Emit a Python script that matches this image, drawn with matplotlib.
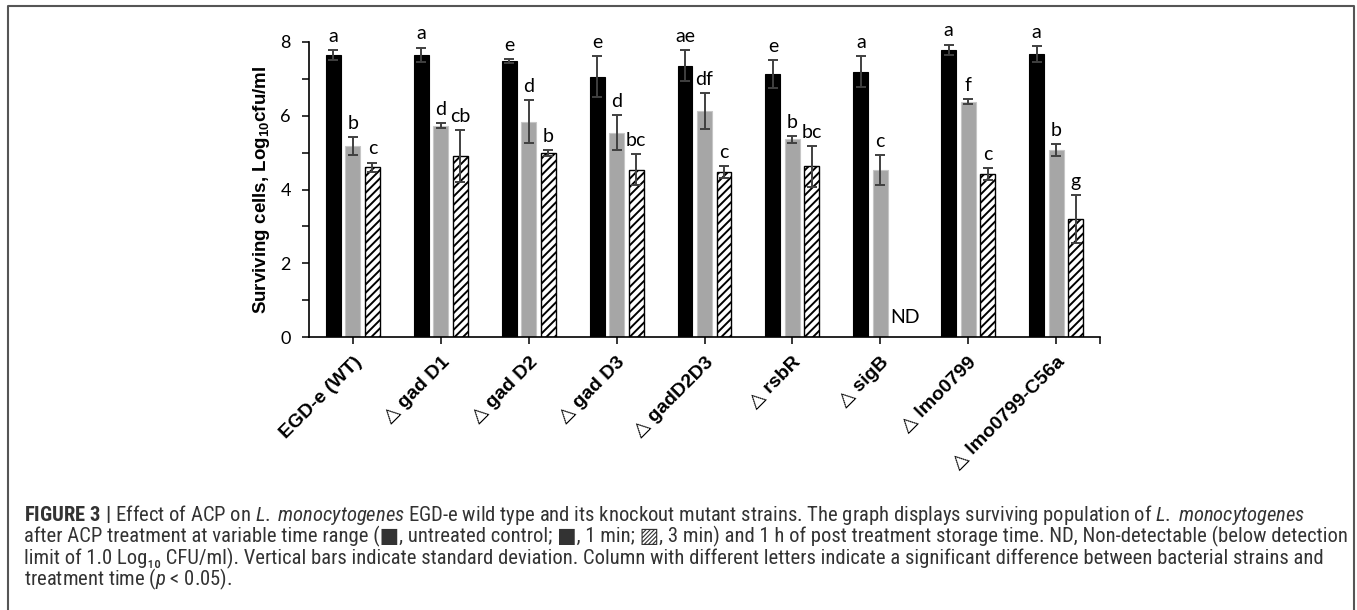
import numpy as np
import matplotlib
matplotlib.use('Agg')
import matplotlib.pyplot as plt
from matplotlib import font_manager
from matplotlib.lines import Line2D

strains = ['EGD-e (WT)', '△ gad D1', '△ gad D2', '△ gad D3', '△ gadD2D3',
           '△ rsbR', '△ sigB', '△ lmo0799', '△ lmo0799-C56a']
control = [7.65, 7.65, 7.49, 7.06, 7.36, 7.13, 7.20, 7.79, 7.68]
control_sd = [0.13, 0.20, 0.05, 0.55, 0.42, 0.38, 0.42, 0.14, 0.22]
one_min = [5.18, 5.73, 5.84, 5.54, 6.13, 5.36, 4.52, 6.38, 5.07]
one_min_sd = [0.25, 0.07, 0.58, 0.48, 0.48, 0.10, 0.41, 0.07, 0.16]
three_min = [4.60, 4.91, 4.99, 4.54, 4.48, 4.63, np.nan, 4.41, 3.21]
three_min_sd = [0.13, 0.70, 0.07, 0.41, 0.16, 0.55, np.nan, 0.16, 0.65]
control_let = ['a', 'a', 'e', 'e', 'ae', 'e', 'a', 'a', 'a']
one_min_let = ['b', 'd', 'd', 'd', 'df', 'b', 'c', 'f', 'b']
three_min_let = ['c', 'cb', 'b', 'bc', 'c', 'bc', '', 'c', 'g']
yticks = [0, 1, 2, 3, 4, 5, 6, 7, 8]
ytick_labels = ['0', '', '2', '', '4', '', '6', '', '8']

caption = [
    r'$\mathbf{FIGURE\ 3\ |}$ Effect of ACP on $\mathit{L.}$ $\mathit{monocytogenes}$ EGD-e wild type and its knockout '
    r'mutant strains. The graph displays surviving population of $\mathit{L.}$ $\mathit{monocytogenes}$',
    'after ACP treatment at variable time range (■, untreated control; ■, 1 min; ▨, 3 min) and 1 h of '
    'post treatment storage time. ND, Non-detectable (below detection',
    'limit of 1.0 Log₁₀ CFU/ml). Vertical bars indicate standard deviation. Column with '
    'different letters indicate a significant difference between bacterial strains and',
    r'treatment time ($\mathit{p}$ < 0.05).',
]

installed = {f.name for f in font_manager.fontManager.ttflist}
cap_font = 'Liberation Sans'
for name in ['Liberation Sans Narrow', 'Roboto Condensed', 'Open Sans Condensed', 'Roboto']:
    if name in installed:
        cap_font = name
        break
num_font = 'Lato'

plt.rcParams['mathtext.fontset'] = 'custom'
plt.rcParams['mathtext.rm'] = cap_font
plt.rcParams['mathtext.it'] = cap_font + ':italic'
plt.rcParams['mathtext.bf'] = cap_font + ':bold'
plt.rcParams['hatch.linewidth'] = 1.4

W, H = 1357, 610
fig = plt.figure(figsize=(W / 100, H / 100), dpi=100)
ax = fig.add_axes([309 / W, 1 - 337 / H, 791 / W, 295 / H])

x = np.arange(len(strains))
off = 0.222
bw = 0.17
errkw = dict(ecolor='#404040', elinewidth=1.4, capsize=3.8, capthick=1.4)
ax.bar(x - off, control, bw, yerr=control_sd, color='black', edgecolor='black', lw=0.8, error_kw=errkw)
ax.bar(x, one_min, bw, yerr=one_min_sd, color='#a6a6a6', edgecolor='#c6c6c6', lw=0.8, error_kw=errkw)
ax.bar(x + off, three_min, bw, yerr=three_min_sd, color='white', edgecolor='black', hatch='////',
       lw=1.0, error_kw=errkw)

for vals, sds, labs, dx in [(control, control_sd, control_let, -off),
                            (one_min, one_min_sd, one_min_let, 0),
                            (three_min, three_min_sd, three_min_let, off)]:
    for i in range(len(vals)):
        if np.isnan(vals[i]):
            continue
        ax.text(i + dx, vals[i] + sds[i] + 0.22, labs[i], ha='center', va='baseline',
                fontsize=14, family=num_font, clip_on=False)
ax.text(6 + off + 0.06, 0.52, 'ND', ha='center', va='center', fontsize=14, family=num_font)

ax.set_xlim(-0.5, 8.5)
ax.set_ylim(0, 8)
ax.spines['top'].set_visible(False)
ax.spines['right'].set_visible(False)
ax.spines['left'].set_linewidth(1.2)
ax.spines['bottom'].set_linewidth(1.2)
ax.set_yticks(yticks)
ax.set_yticklabels(ytick_labels, family=num_font, fontsize=13)
ax.tick_params(axis='y', direction='out', length=5, width=1.1, pad=8)
ax.set_xticks(x)
ax.set_xticks([8.5], minor=True)
ax.set_xticklabels(strains, rotation=45, ha='right', rotation_mode='anchor', fontsize=14,
                   fontweight='bold', family=['Liberation Sans', 'DejaVu Sans'])
ax.tick_params(axis='x', which='both', direction='out', length=5, width=1.1, pad=7)
ax.set_ylabel('Surviving cells, Log$_{\\mathregular{10}}$cfu/ml', fontsize=13.5,
              fontweight='bold', family='Liberation Sans')
ax.yaxis.set_label_coords(-0.047, 0.5)

# frame around figure + caption
fig.add_artist(Line2D([8 / W, 8 / W, 1354 / W, 1354 / W], [0, 1 - 6 / H, 1 - 6 / H, 0],
                      transform=fig.transFigure, color='#555555', lw=1.5))

cap_texts = []
for k, line in enumerate(caption):
    t = fig.text(24 / W, 1 - (521 + 21.5 * k) / H, line, fontsize=11, color='#333333',
                 family=[cap_font, 'DejaVu Sans'], va='baseline', ha='left')
    cap_texts.append(t)
fig.canvas.draw()
r = fig.canvas.get_renderer()
scale = (1306 - 24) / cap_texts[0].get_window_extent(r).width
for t in cap_texts:
    t.set_fontsize(11 * scale)

fig.savefig('out.png', dpi=100)
